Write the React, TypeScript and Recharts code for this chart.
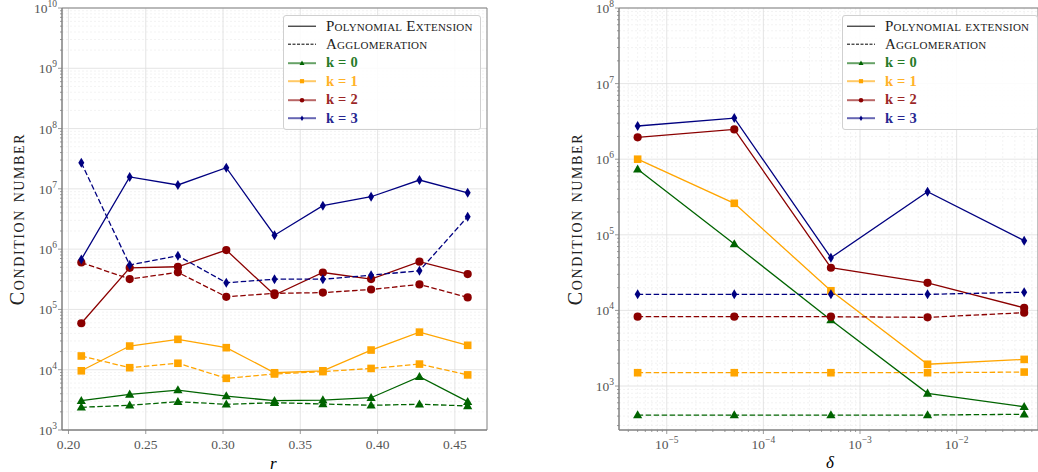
import React from 'react';
import { LineChart, Line, XAxis, YAxis, CartesianGrid, ReferenceArea } from 'recharts';

// left panel: condition number vs r
const rValues = [0.2083, 0.2396, 0.2708, 0.3021, 0.3333, 0.3646, 0.3958, 0.4271, 0.4583];
const rTicks = [0.2, 0.25, 0.3, 0.35, 0.4, 0.45];
const polyRK0 = [3060, 3900, 4600, 3660, 3060, 3140, 3430, 7650, 2950];
const aggRK0 = [2380, 2570, 2950, 2670, 2840, 2700, 2570, 2670, 2510];
const polyRK1 = [9600, 24700, 31900, 23200, 8900, 9600, 21200, 42000, 25400];
const aggRK1 = [16900, 10800, 12800, 7200, 8500, 9300, 10500, 12400, 8200];
const polyRK2 = [59000, 490000, 510000, 966000, 173000, 410000, 319000, 620000, 386000];
const aggRK2 = [600000, 319000, 412000, 162000, 185000, 190000, 214000, 260000, 158000];
const polyRK3 = [676000, 15800000, 11600000, 22400000, 1700000, 5250000, 7400000, 14000000, 8600000];
const aggRK3 = [27000000, 545000, 776000, 277000, 317000, 317000, 370000, 438000, 3450000];

// right panel: condition number vs delta
const deltaValues = [5e-6, 5e-5, 5e-4, 5e-3, 5e-2];
const polyDK0 = [735000, 75500, 7470, 800, 532];
const aggDK0 = [413, 413, 413, 413, 423];
const polyDK1 = [1000000, 261000, 18200, 1940, 2250];
const aggDK1 = [1500, 1500, 1500, 1500, 1530];
const polyDK2 = [1950000, 2480000, 36700, 23200, 10800];
const aggDK2 = [8260, 8260, 8260, 8100, 9330];
const polyDK3 = [2750000, 3500000, 49800, 372000, 83600];
const aggDK3 = [16300, 16300, 16300, 16300, 17400];

const kColors = ['#006400', '#ffa500', '#8b0000', '#000080'];
const kShapes = ['triangle', 'square', 'circle', 'diamond'];

const FONT = '"Liberation Serif", "DejaVu Serif", serif';
const SPINE = '#808080';
const TICK_TEXT = '#555';

const leftRows = rValues.map((r, i) => ({
  x: r,
  p0: polyRK0[i], a0: aggRK0[i],
  p1: polyRK1[i], a1: aggRK1[i],
  p2: polyRK2[i], a2: aggRK2[i],
  p3: polyRK3[i], a3: aggRK3[i],
}));

const rightRows = deltaValues.map((d, i) => ({
  x: d,
  p0: polyDK0[i], a0: aggDK0[i],
  p1: polyDK1[i], a1: aggDK1[i],
  p2: polyDK2[i], a2: aggDK2[i],
  p3: polyDK3[i], a3: aggDK3[i],
}));

function decades(lo: number, hi: number) {
  const out: number[] = [];
  for (let e = lo; e <= hi; e++) out.push(Math.pow(10, e));
  return out;
}
function minors(lo: number, hi: number, min: number, max: number) {
  const out: number[] = [];
  for (let e = lo; e <= hi; e++) {
    for (let m = 2; m <= 9; m++) {
      const v = m * Math.pow(10, e);
      if (v >= min && v <= max) out.push(v);
    }
  }
  return out;
}

const leftYDomain = [1e3, 1e10];
const leftXDomain = [0.1958, 0.4708];
const leftYMajor = decades(3, 10);
const leftYMinor = minors(3, 9, 1e3, 1e10);

const rightYDomain = [262, 1e8];
const rightXDomain = [Math.pow(10, -5.494), Math.pow(10, -1.158)];
const rightYMajor = decades(3, 8);
const rightYMinor = minors(2, 7, 262, 1e8);
const rightXMajor = decades(-5, -2);
const rightXMinor = minors(-6, -2, rightXDomain[0], rightXDomain[1]);

const isMajor = (v: number) => {
  const l = Math.log10(v);
  return Math.abs(l - Math.round(l)) < 1e-6;
};

function Marker({ cx, cy, shape, color, s = 1 }: any) {
  if (cx == null || cy == null) return null;
  if (shape === 'triangle') {
    return (
      <polygon
        points={`${cx},${cy - 4.8 * s} ${cx + 4.6 * s},${cy + 3.3 * s} ${cx - 4.6 * s},${cy + 3.3 * s}`}
        fill={color}
      />
    );
  }
  if (shape === 'square') {
    return <rect x={cx - 3.8 * s} y={cy - 3.8 * s} width={7.6 * s} height={7.6 * s} fill={color} />;
  }
  if (shape === 'circle') {
    return <circle cx={cx} cy={cy} r={4.1 * s} fill={color} />;
  }
  return (
    <polygon
      points={`${cx},${cy - 5 * s} ${cx + 3 * s},${cy} ${cx},${cy + 5 * s} ${cx - 3 * s},${cy}`}
      fill={color}
    />
  );
}

function LogYTick({ x, y, payload }: any) {
  const v = payload.value;
  const major = isMajor(v);
  const e = Math.round(Math.log10(v));
  return (
    <g>
      <line x1={x - (major ? 4 : 2)} x2={x} y1={y} y2={y} stroke={SPINE} strokeWidth={0.8} />
      {major && (
        <text x={x - 5} y={y + 5} textAnchor="end" fontFamily={FONT} fontSize={13.5} fill={TICK_TEXT}>
          10<tspan dy={-6} fontSize={9.5}>{e < 0 ? `−${-e}` : e}</tspan>
        </text>
      )}
    </g>
  );
}

function LogXTick({ x, y, payload }: any) {
  const v = payload.value;
  const major = isMajor(v);
  const e = Math.round(Math.log10(v));
  return (
    <g>
      <line x1={x} x2={x} y1={y} y2={y + (major ? 4 : 2)} stroke={SPINE} strokeWidth={0.8} />
      {major && (
        <text x={x} y={y + 19} textAnchor="middle" fontFamily={FONT} fontSize={13.5} fill={TICK_TEXT}>
          10<tspan dy={-6} fontSize={9.5}>{e < 0 ? `−${-e}` : e}</tspan>
        </text>
      )}
    </g>
  );
}

function LinXTick({ x, y, payload }: any) {
  return (
    <g>
      <line x1={x} x2={x} y1={y} y2={y + 4} stroke={SPINE} strokeWidth={0.8} />
      <text x={x} y={y + 19} textAnchor="middle" fontFamily={FONT} fontSize={13.5} fill={TICK_TEXT}>
        {payload.value.toFixed(2)}
      </text>
    </g>
  );
}

function seriesLines() {
  const out: React.ReactNode[] = [];
  [0, 1, 2, 3].forEach((k) => {
    ['p', 'a'].forEach((kind) => {
      const key = `${kind}${k}`;
      out.push(
        <Line
          key={key}
          dataKey={key}
          type="linear"
          stroke={kColors[k]}
          strokeWidth={1.3}
          strokeDasharray={kind === 'a' ? '5.5 2.5' : undefined}
          isAnimationActive={false}
          activeDot={false}
          dot={(p: any) => (
            <Marker key={`${key}-${p.index}`} cx={p.cx} cy={p.cy} shape={kShapes[k]} color={kColors[k]} />
          )}
        />
      );
    });
  });
  return out;
}

function LegendBox({ left, width, first }: { left: number; width: number; first: string }) {
  const rowH = 18.4;
  const rows = [
    { label: first, kind: 'solid' },
    { label: 'Agglomeration', kind: 'dashed' },
    ...[0, 1, 2, 3].map((k) => ({ label: `k = ${k}`, kind: 'k', k })),
  ] as any[];
  return (
    <div
      style={{
        position: 'absolute',
        left,
        top: 15,
        width,
        height: 115,
        border: '1px solid #d0d0d0',
        borderRadius: 3,
        background: 'rgba(255,255,255,0.85)',
        boxSizing: 'border-box',
      }}
    >
      {rows.map((row, i) => (
        <div
          key={i}
          style={{
            position: 'absolute',
            left: 4,
            top: 1 + i * rowH,
            height: rowH,
            display: 'flex',
            alignItems: 'center',
            whiteSpace: 'nowrap',
          }}
        >
          <svg width={28} height={rowH} style={{ flex: 'none' }}>
            {row.kind === 'k' ? (
              <g>
                <line x1={0} x2={28} y1={rowH / 2} y2={rowH / 2} stroke={kColors[row.k]} strokeOpacity={0.6} strokeWidth={2} />
                <Marker cx={14} cy={rowH / 2} shape={kShapes[row.k]} color={kColors[row.k]} s={0.55} />
              </g>
            ) : (
              <line
                x1={0}
                x2={28}
                y1={rowH / 2}
                y2={rowH / 2}
                stroke="#000"
                strokeWidth={1}
                strokeDasharray={row.kind === 'dashed' ? '3 1.5' : undefined}
              />
            )}
          </svg>
          <span
            style={{
              marginLeft: 10,
              fontFamily: FONT,
              fontSize: row.kind === 'k' ? 14.5 : 15,
              fontWeight: row.kind === 'k' ? 'bold' : 'normal',
              fontVariant: row.kind === 'k' ? 'normal' : 'small-caps',
              letterSpacing: row.kind === 'k' ? 0.2 : 0.25,
              color: row.kind === 'k' ? kColors[row.k] : '#222',
              opacity: row.kind === 'k' ? 0.85 : 1,
            }}
          >
            {row.label}
          </span>
        </div>
      ))}
    </div>
  );
}

const yLabelStyle: React.CSSProperties = {
  position: 'absolute',
  top: 219,
  width: 240,
  marginLeft: -120,
  marginTop: -12,
  textAlign: 'center',
  transform: 'rotate(-90deg)',
  fontFamily: FONT,
  fontSize: 20,
  fontVariant: 'small-caps',
  letterSpacing: 1.6,
  color: '#222',
  lineHeight: '24px',
};

export default function App() {
  return (
    <div
      style={{
        position: 'fixed',
        left: 0,
        top: 0,
        width: 1038,
        height: 472,
        background: '#fff',
        overflow: 'hidden',
      }}
    >
      <div style={{ position: 'absolute', left: 0, top: 0 }}>
        <LineChart width={500} height={472} data={leftRows} margin={{ top: 8, right: 13, bottom: 0, left: 0 }}>
          <CartesianGrid
            horizontalValues={leftYMinor}
            vertical={false}
            stroke="#ebebeb"
            strokeWidth={0.6}
            strokeDasharray="2 2"
          />
          <CartesianGrid horizontalValues={leftYMajor} verticalValues={rTicks} stroke="#dedede" strokeWidth={0.8} />
          <XAxis
            dataKey="x"
            type="number"
            domain={leftXDomain}
            allowDataOverflow
            ticks={rTicks}
            interval={0}
            height={42}
            tickSize={0}
            tickMargin={0}
            tickLine={false}
            axisLine={{ stroke: SPINE, strokeWidth: 1 }}
            tick={(p: any) => <LinXTick {...p} />}
          />
          <YAxis
            type="number"
            scale="log"
            domain={leftYDomain}
            allowDataOverflow
            ticks={[...leftYMajor, ...leftYMinor]}
            interval={0}
            width={62}
            tickSize={0}
            tickMargin={0}
            tickLine={false}
            axisLine={{ stroke: SPINE, strokeWidth: 1 }}
            tick={(p: any) => <LogYTick {...p} />}
          />
          <ReferenceArea
            x1={leftXDomain[0]}
            x2={leftXDomain[1]}
            y1={leftYDomain[0]}
            y2={leftYDomain[1]}
            fill="none"
            stroke={SPINE}
            strokeWidth={1}
            ifOverflow="visible"
          />
          {seriesLines()}
        </LineChart>
      </div>

      <div style={{ position: 'absolute', left: 520, top: 0 }}>
        <LineChart width={518} height={472} data={rightRows} margin={{ top: 8, right: 0, bottom: 0, left: 0 }}>
          <CartesianGrid
            horizontalValues={rightYMinor}
            verticalValues={rightXMinor}
            stroke="#ebebeb"
            strokeWidth={0.6}
            strokeDasharray="2 2"
          />
          <CartesianGrid horizontalValues={rightYMajor} verticalValues={rightXMajor} stroke="#dedede" strokeWidth={0.8} />
          <XAxis
            dataKey="x"
            type="number"
            scale="log"
            domain={rightXDomain}
            allowDataOverflow
            ticks={[...rightXMajor, ...rightXMinor]}
            interval={0}
            height={42}
            tickSize={0}
            tickMargin={0}
            tickLine={false}
            axisLine={{ stroke: SPINE, strokeWidth: 1 }}
            tick={(p: any) => <LogXTick {...p} />}
          />
          <YAxis
            type="number"
            scale="log"
            domain={rightYDomain}
            allowDataOverflow
            ticks={[...rightYMajor, ...rightYMinor]}
            interval={0}
            width={99}
            tickSize={0}
            tickMargin={0}
            tickLine={false}
            axisLine={{ stroke: SPINE, strokeWidth: 1 }}
            tick={(p: any) => <LogYTick {...p} />}
          />
          <ReferenceArea
            x1={rightXDomain[0]}
            x2={rightXDomain[1]}
            y1={rightYDomain[0]}
            y2={rightYDomain[1]}
            fill="none"
            stroke={SPINE}
            strokeWidth={1}
            ifOverflow="visible"
          />
          {seriesLines()}
        </LineChart>
      </div>

      <LegendBox left={283} width={198} first="Polynomial Extension" />
      <LegendBox left={842} width={196} first="Polynomial extension" />

      <div style={{ ...yLabelStyle, left: 17 }}>Condition number</div>
      <div style={{ ...yLabelStyle, left: 575 }}>Condition number</div>

      <div
        style={{
          position: 'absolute',
          left: 270,
          top: 456,
          fontFamily: FONT,
          fontStyle: 'italic',
          fontSize: 17,
          lineHeight: '16px',
        }}
      >
        r
      </div>
      <div
        style={{
          position: 'absolute',
          left: 826,
          top: 454,
          fontFamily: FONT,
          fontStyle: 'italic',
          fontSize: 17,
          lineHeight: '17px',
        }}
      >
        δ
      </div>
    </div>
  );
}
